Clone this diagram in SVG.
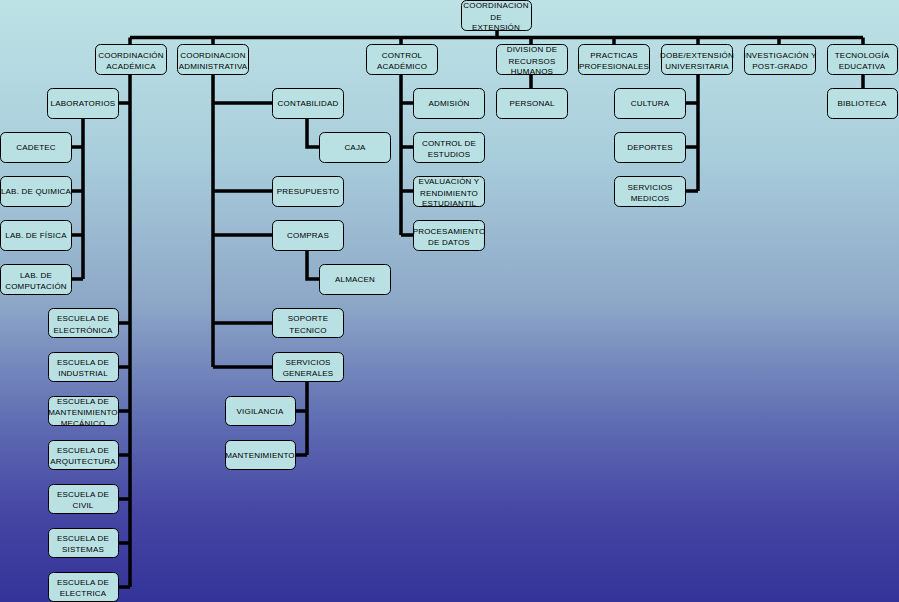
<svg xmlns="http://www.w3.org/2000/svg" width="899" height="602" viewBox="0 0 899 602">
<defs>
<linearGradient id="bg" x1="0" y1="0" x2="0" y2="1">
<stop offset="0" stop-color="#bde2e5"/>
<stop offset="0.25" stop-color="#aacfdc"/>
<stop offset="0.5" stop-color="#8ea8c8"/>
<stop offset="0.7" stop-color="#5f6db2"/>
<stop offset="0.85" stop-color="#4646a4"/>
<stop offset="1" stop-color="#333399"/>
</linearGradient>
<style>
.b rect{fill:#b9e1e3;stroke:#000;stroke-width:1}
.b text{font-family:"Liberation Sans",Arial,sans-serif;font-size:8px;fill:#000;text-anchor:middle;letter-spacing:0.2px}
.c path{fill:none;stroke:#000;stroke-width:3.5;stroke-linejoin:miter}
</style>
</defs>
<rect x="0" y="0" width="899" height="602" fill="url(#bg)"/>
<g class="c" id="connectors">
<path d="M497 31V37.5M130 37.5H863M130 37.5V44M213 37.5V44M401 37.5V44M531 37.5V44M614 37.5V44M698 37.5V44M779 37.5V44M863 37.5V44"/>
<path d="M130 74V587M118 103H130M118 323H130M118 367H130M118 411H130M118 455H130M118 499H130M118 543H130M118 587H130"/>
<path d="M83 118V279M71 147H83M71 191H83M71 235H83M71 279H83"/>
<path d="M213 74V367M213 103H272M213 191H272M213 235H272M213 323H272M213 367H272"/>
<path d="M307 118V147H319M307 250V279H319M307 381V455M295 411H307M295 455H307"/>
<path d="M401 74V235M401 103H413M401 147H413M401 191H413M401 235H413"/>
<path d="M531 74V88M863 74V88"/>
<path d="M698 74V191M686 103H698M686 147H698M686 191H698"/>
</g>
<g class="b">
<g id="coord-extension"><rect x="461.5" y="0.5" width="70" height="30" rx="5"/><text x="496" y="8">COORDINACION</text><text x="496" y="20">DE</text><text x="496" y="30">EXTENSIÓN</text></g>
<g id="coord-academica"><rect x="95.5" y="44.5" width="71" height="30" rx="5"/><text x="131" y="58">COORDINACIÓN</text><text x="131" y="69">ACADÉMICA</text></g>
<g id="coord-administrativa"><rect x="177.5" y="44.5" width="71" height="30" rx="5"/><text x="213" y="58">COORDINACION</text><text x="213" y="69">ADMINISTRATIVA</text></g>
<g id="control-academico"><rect x="366.5" y="44.5" width="71" height="30" rx="5"/><text x="402" y="58">CONTROL</text><text x="402" y="69">ACADÉMICO</text></g>
<g id="rrhh"><rect x="496.5" y="44.5" width="71" height="30" rx="5"/><text x="532" y="52">DIVISION DE</text><text x="532" y="64">RECURSOS</text><text x="532" y="74">HUMANOS</text></g>
<g id="practicas"><rect x="578.5" y="44.5" width="71" height="30" rx="5"/><text x="614" y="58">PRACTICAS</text><text x="614" y="69">PROFESIONALES</text></g>
<g id="dobe"><rect x="661.5" y="44.5" width="71" height="30" rx="5"/><text x="697" y="58">DOBE/EXTENSIÓN</text><text x="697" y="69">UNIVERSITARIA</text></g>
<g id="investigacion"><rect x="744.5" y="44.5" width="71" height="30" rx="5"/><text x="780" y="58">INVESTIGACIÓN Y</text><text x="780" y="69">POST-GRADO</text></g>
<g id="tecnologia"><rect x="827.5" y="44.5" width="70" height="30" rx="5"/><text x="862" y="58">TECNOLOGÍA</text><text x="862" y="69">EDUCATIVA</text></g>
<g id="laboratorios"><rect x="47.5" y="88.5" width="71" height="30" rx="5"/><text x="83" y="106">LABORATORIOS</text></g>
<g id="contabilidad"><rect x="272.5" y="88.5" width="71" height="30" rx="5"/><text x="308" y="106">CONTABILIDAD</text></g>
<g id="admision"><rect x="413.5" y="88.5" width="71" height="30" rx="5"/><text x="449" y="106">ADMISIÓN</text></g>
<g id="personal"><rect x="496.5" y="88.5" width="71" height="30" rx="5"/><text x="532" y="106">PERSONAL</text></g>
<g id="cultura"><rect x="614.5" y="88.5" width="71" height="30" rx="5"/><text x="650" y="106">CULTURA</text></g>
<g id="biblioteca"><rect x="827.5" y="88.5" width="70" height="30" rx="5"/><text x="862" y="106">BIBLIOTECA</text></g>
<g id="cadetec"><rect x="0.5" y="132.5" width="71" height="30" rx="5"/><text x="36" y="150">CADETEC</text></g>
<g id="caja"><rect x="319.5" y="132.5" width="71" height="30" rx="5"/><text x="355" y="150">CAJA</text></g>
<g id="control-estudios"><rect x="413.5" y="132.5" width="71" height="30" rx="5"/><text x="449" y="146">CONTROL DE</text><text x="449" y="157">ESTUDIOS</text></g>
<g id="deportes"><rect x="614.5" y="132.5" width="71" height="30" rx="5"/><text x="650" y="150">DEPORTES</text></g>
<g id="lab-quimica"><rect x="0.5" y="176.5" width="71" height="30" rx="5"/><text x="36" y="194">LAB. DE QUIMICA</text></g>
<g id="presupuesto"><rect x="272.5" y="176.5" width="71" height="30" rx="5"/><text x="308" y="194">PRESUPUESTO</text></g>
<g id="evaluacion"><rect x="413.5" y="176.5" width="71" height="30" rx="5"/><text x="449" y="184">EVALUACIÓN Y</text><text x="449" y="196">RENDIMIENTO</text><text x="449" y="206">ESTUDIANTIL</text></g>
<g id="servicios-medicos"><rect x="614.5" y="176.5" width="71" height="30" rx="5"/><text x="650" y="190">SERVICIOS</text><text x="650" y="201">MEDICOS</text></g>
<g id="lab-fisica"><rect x="0.5" y="220.5" width="71" height="30" rx="5"/><text x="36" y="238">LAB. DE FÍSICA</text></g>
<g id="compras"><rect x="272.5" y="220.5" width="71" height="30" rx="5"/><text x="308" y="238">COMPRAS</text></g>
<g id="procesamiento"><rect x="413.5" y="220.5" width="71" height="30" rx="5"/><text x="449" y="234">PROCESAMIENTO</text><text x="449" y="245">DE DATOS</text></g>
<g id="lab-computacion"><rect x="0.5" y="264.5" width="71" height="30" rx="5"/><text x="36" y="278">LAB. DE</text><text x="36" y="289">COMPUTACIÓN</text></g>
<g id="almacen"><rect x="319.5" y="264.5" width="71" height="30" rx="5"/><text x="355" y="282">ALMACEN</text></g>
<g id="esc-electronica"><rect x="48.5" y="308.5" width="70" height="29" rx="5"/><text x="83" y="321">ESCUELA DE</text><text x="83" y="333">ELECTRÓNICA</text></g>
<g id="soporte"><rect x="272.5" y="308.5" width="71" height="29" rx="5"/><text x="308" y="321">SOPORTE</text><text x="308" y="333">TECNICO</text></g>
<g id="esc-industrial"><rect x="48.5" y="352.5" width="70" height="29" rx="5"/><text x="83" y="365">ESCUELA DE</text><text x="83" y="376">INDUSTRIAL</text></g>
<g id="servicios-generales"><rect x="272.5" y="352.5" width="71" height="29" rx="5"/><text x="308" y="365">SERVICIOS</text><text x="308" y="376">GENERALES</text></g>
<g id="esc-mantenimiento"><rect x="48.5" y="396.5" width="70" height="29" rx="5"/><text x="83" y="404">ESCUELA DE</text><text x="83" y="415">MANTENIMIENTO</text><text x="83" y="426">MECÁNICO</text></g>
<g id="vigilancia"><rect x="225.5" y="396.5" width="70" height="29" rx="5"/><text x="260" y="414">VIGILANCIA</text></g>
<g id="esc-arquitectura"><rect x="48.5" y="440.5" width="70" height="29" rx="5"/><text x="83" y="453">ESCUELA DE</text><text x="83" y="464">ARQUITECTURA</text></g>
<g id="mantenimiento"><rect x="225.5" y="440.5" width="70" height="29" rx="5"/><text x="260" y="458">MANTENIMIENTO</text></g>
<g id="esc-civil"><rect x="48.5" y="484.5" width="70" height="29" rx="5"/><text x="83" y="497">ESCUELA DE</text><text x="83" y="508">CIVIL</text></g>
<g id="esc-sistemas"><rect x="48.5" y="528.5" width="70" height="29" rx="5"/><text x="83" y="541">ESCUELA DE</text><text x="83" y="552">SISTEMAS</text></g>
<g id="esc-electrica"><rect x="48.5" y="572.5" width="70" height="29" rx="5"/><text x="83" y="585">ESCUELA DE</text><text x="83" y="596">ELECTRICA</text></g>
</g>
</svg>
